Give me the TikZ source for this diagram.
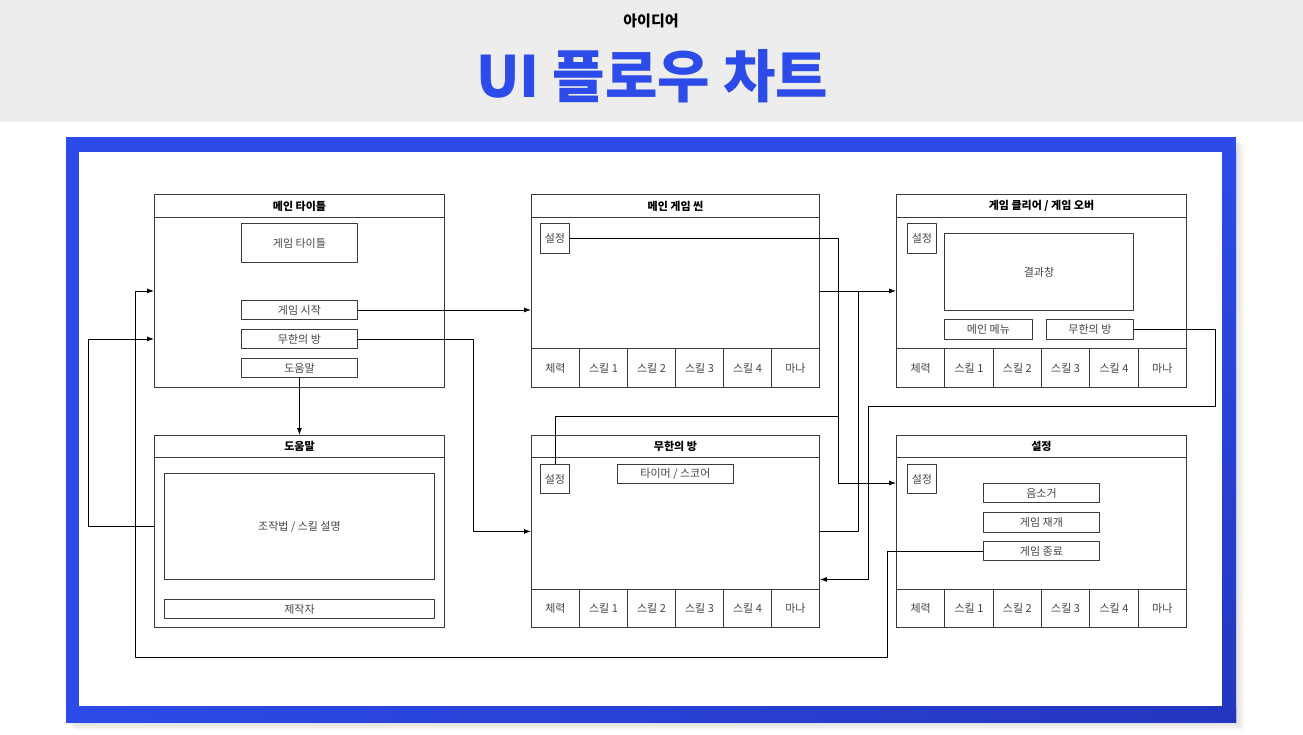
\documentclass[tikz,border=0pt]{standalone}
\usepackage{fontspec}
\setmainfont{Noto Sans CJK KR}
\usetikzlibrary{arrows.meta}
\definecolor{band}{HTML}{EDEDED}
\definecolor{brand}{HTML}{2D4BE8}
\definecolor{branddark}{HTML}{2436BF}
\definecolor{frameline}{HTML}{3A3A3A}
\definecolor{label}{HTML}{444444}

\begin{document}
\begin{tikzpicture}[x=1pt,y=-1pt,line cap=round,line join=round,
  every node/.style={font=\fontsize{11}{13}\selectfont,text=label},
  panel/.style={draw=frameline,line width=.9pt,fill=white,inner sep=0pt,anchor=north west},
  bar/.style={draw=frameline,line width=.9pt,inner sep=0pt,anchor=north west,
    font=\fontsize{11}{13}\selectfont\bfseries,text=black},
  widget/.style={draw=frameline,line width=.9pt,inner sep=0pt,anchor=north west},
  box/.style 2 args={minimum width=#1,minimum height=#2},
  link/.style={draw=black,line width=.8pt,-{Latex[length=7pt,width=5pt]}},
  wire/.style={draw=black,line width=.8pt}]
  \useasboundingbox (0,0) rectangle (1303,735);
  % header
  \fill[band] (0,0) rectangle (1303,122);
  \node[font=\fontsize{15}{16}\selectfont\bfseries,text=black] (kicker) at (651,21) {아이디어};
  \node[font=\fontsize{57}{60}\selectfont\bfseries,text=brand] (headline) at (652,76) {UI 플로우 차트};
  % frame with shadow
  \foreach \s in {2,4,6,8}
    \fill[black,opacity=.03] (66+\s,137+\s) rectangle (1236+\s,722+\s);
  \fill[brand] (66,137) rectangle (1236,722);
  \shade[left color=brand,right color=branddark] (66,706) rectangle (1236,722);
  \shade[top color=brand,bottom color=branddark] (1222,152) rectangle (1236,722);
  \fill[white] (79,152) rectangle (1222,706);

  % panels
  \node[panel,box={290}{193}] (mainTitle) at (154,194) {};
  \node[bar,box={290}{23}] (mainTitleBar) at (154,194) {메인 타이틀};
  \node[panel,box={288}{193}] (mainGame) at (531,194) {};
  \node[bar,box={288}{23}] (mainGameBar) at (531,194) {메인 게임 씬};
  \node[panel,box={290}{193}] (clearPanel) at (896,194) {};
  \node[bar,box={290}{23}] (clearBar) at (896,194) {게임 클리어 / 게임 오버};
  \node[panel,box={290}{192}] (helpPanel) at (154,435) {};
  \node[bar,box={290}{22}] (helpBar) at (154,435) {도움말};
  \node[panel,box={288}{192}] (infRoom) at (531,435) {};
  \node[bar,box={288}{22}] (infBar) at (531,435) {무한의 방};
  \node[panel,box={290}{192}] (setPanel) at (896,435) {};
  \node[bar,box={290}{22}] (setBar) at (896,435) {설정};

  % widgets
  \node[widget,box={116}{39}] (aTitle) at (241,223) {게임 타이틀};
  \node[widget,box={116}{19}] (aStart) at (241,300) {게임 시작};
  \node[widget,box={116}{19}] (aInf) at (241,329) {무한의 방};
  \node[widget,box={116}{19}] (aHelp) at (241,358) {도움말};
  \node[widget,box={29}{30}] (mgSet) at (540,223) {설정};
  \node[widget,box={29}{30}] (cSet) at (907,223) {설정};
  \node[widget,box={189}{77}] (cResult) at (944,233) {결과창};
  \node[widget,box={88}{20}] (cMenu) at (944,319) {메인 메뉴};
  \node[widget,box={87}{20}] (cInf) at (1046,319) {무한의 방};
  \node[widget,box={270}{106}] (dGuide) at (164,473) {조작법 / 스킬 설명};
  \node[widget,box={270}{19}] (dCredit) at (164,599) {제작자};
  \node[widget,box={29}{29}] (eSet) at (540,464) {설정};
  \node[widget,box={116}{19}] (eTimer) at (617,464) {타이머 / 스코어};
  \node[widget,box={29}{29}] (fSet) at (907,464) {설정};
  \node[widget,box={116}{19}] (fMute) at (983,483) {음소거};
  \node[widget,box={116}{20}] (fResume) at (983,512) {게임 재개};
  \node[widget,box={116}{19}] (fEnd) at (983,541) {게임 종료};

  % status rows
  \foreach \p/\x/\y/\w/\h in {mg/531/348/48/39,cl/896/348/48.33/39,ir/531/589/48/38,st/896/589/48.33/38}
    \foreach \t [count=\i] in {체력,스킬 1,스킬 2,스킬 3,스킬 4,마나}
      \node[widget,box={\w}{\h}] (\p-\i) at ({\x+(\i-1)*\w},\y) {\t};

  % flow
  \coordinate (busA) at (838,483);
  \coordinate (busB) at (838,416);
  \coordinate (busC) at (858,291);
  \coordinate (busD) at (1215,406);
  \coordinate (busE) at (868,406);
  \coordinate (lowR) at (887,657);
  \coordinate (lowL) at (135,657);
  \draw[link] (aStart.east) -- (aStart.east -| mainGame.west);
  \draw[link] (aInf.east) -- +(115,0) |- (infRoom.west);
  \draw[link] (aHelp.south) -- (helpPanel.north -| aHelp.south);
  \draw[link] ([yshift=5pt]helpPanel.west) -- +(-66,0) |- (mainTitle.west |- aInf.west);
  \draw[link] (fEnd.west) -| (lowR) -- (lowL) |- (mainTitle.west);
  \draw[link] (mgSet.east) -| (busA) -- (busA -| setPanel.west);
  \draw[wire] (eSet.north) |- (busB);
  \draw[link] (mainGame.east) -- (clearPanel.west);
  \draw[wire] (infRoom.east) -| (busC);
  \draw[link] (cInf.east) -| (busD) -- (busE) |- ([yshift=-48pt]infRoom.east);
\end{tikzpicture}
\end{document}
